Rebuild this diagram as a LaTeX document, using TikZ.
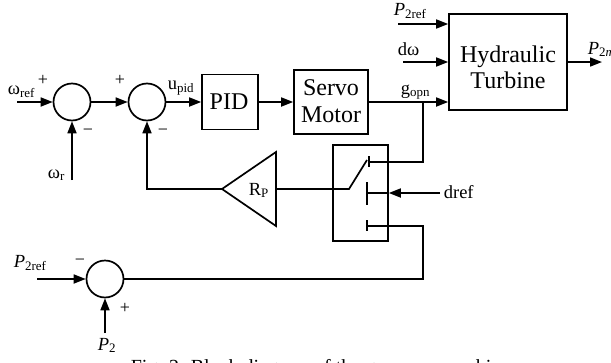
\documentclass[tikz,border=0pt]{standalone}
\usepackage{fontspec}
\setmainfont{Liberation Serif}
\usetikzlibrary{arrows.meta,calc}
\begin{document}
\begin{tikzpicture}[x=1pt,y=-1pt, line width=1.7pt,
  >={Triangle[length=12pt,width=9pt]},
  sumc/.style={circle,draw,minimum size=37pt,inner sep=0pt},
  blk/.style={draw,inner sep=0pt},
  btxt/.style={font=\fontsize{24}{27}\selectfont,inner sep=0pt,anchor=base},
  lbl/.style={font=\fontsize{18.5}{20}\selectfont,inner sep=0pt,anchor=base west},
  sgn/.style={font=\fontsize{18}{20}\selectfont,inner sep=0pt}]
\clip (0,0) rectangle (611,362);
% summing junctions
\node[sumc] (s1) at (72,102) {};
\node[sumc] (s2) at (147,102) {};
\node[sumc] (s3) at (105,279) {};
% blocks
\node[blk,minimum width=56pt,minimum height=55pt] (pid) at (230,102) {};
\node[btxt] (pidt) at (229,109) {PID};
\node[blk,minimum width=74pt,minimum height=64pt] (servo) at (331,102) {};
\node[btxt] (servot1) at (331,95) {Servo};
\node[btxt] (servot2) at (331,122) {Motor};
\node[blk,minimum width=118pt,minimum height=96pt] (turb) at (508,62) {};
\node[btxt] (turbt1) at (508,62) {Hydraulic};
\node[btxt] (turbt2) at (508,88) {Turbine};
\node[blk,minimum width=55pt,minimum height=96pt] (sw) at (360.5,193) {};
% gain triangle
\coordinate (tript) at (222,189);
\coordinate (trir) at (276,189);
\draw[line join=miter] (276,152) -- (tript) -- (276,226) -- cycle;
\node[lbl] (rp) at (248,195) {R\textsubscript{P}};
% main path
\coordinate (wref) at (17,102);
\draw[->] (wref) -- (s1);
\draw[->] (s1) -- (s2);
\draw[->] (s2) -- (pid);
\draw[->] (pid) -- (servo);
\draw[->] (servo.east) -- (servo.east -| turb.west);
\coordinate (wr) at (72,180);
\draw[->] (wr) -- (s1);
% turbine inputs / output
\coordinate (pin) at (398,24);
\draw[->] (pin) -- (pin -| turb.west);
\coordinate (dw) at (403,62);
\draw[->] (dw) -- (turb);
\coordinate (pout) at (602,62);
\draw[->] (turb) -- (pout);
% switch
\coordinate (br) at (423,102);
\coordinate (ct) at (369,162);
\draw (br) |- (ct);
\draw (369,156) -- (369,167);
\coordinate (piv) at (349,189);
\draw (trir) -- (piv) -- (367,160);
\draw (367,182) -- (367,205);
\coordinate (cm) at (367,193);
\draw (cm) -- (cm -| sw.east);
\coordinate (dref) at (440,193);
\draw[->] (dref) -- (dref -| sw.east);
\draw (367,220) -- (367,231);
\coordinate (cb) at (367,226);
\coordinate (cr) at (423,226);
\draw (cb) -- (cr) |- (s3.east);
% feedback
\draw[->] (tript) -| (s2.south);
% bottom junction inputs
\coordinate (p2r) at (37,279);
\draw[->] (p2r) -- (s3);
\coordinate (p2) at (105,333);
\draw[->] (p2) -- (s3);
% labels
\node[lbl] (lwref) at (7,94) {ω\textsubscript{ref}};
\node[sgn] (pl1) at (43,80) {+};
\node[lbl] (lwr) at (47,178) {ω\textsubscript{r}};
\node[sgn] (mi1) at (88,132) {−};
\node[sgn] (pl2) at (120,80) {+};
\node[sgn] (mi2) at (163,132) {−};
\node[lbl] (lupid) at (167,89) {u\textsubscript{pid}};
\node[lbl] (lgopn) at (400,94) {g\textsubscript{opn}};
\node[lbl] (lp2ref) at (393,15) {\textit{P}\textsubscript{2ref}};
\node[lbl] (ldw) at (397,55) {dω};
\node[lbl] (lp2m) at (587,54) {\textit{P}\textsubscript{2\textit{m}}};
\node[lbl] (ldref) at (443,198) {dref};
\node[lbl] (lp2refb) at (13,267) {\textit{P}\textsubscript{2ref}};
\node[sgn] (mi3) at (80,262) {−};
\node[sgn] (pl3) at (125,308) {+};
\node[lbl] (lp2) at (97,350) {\textit{P}\textsubscript{2}};
\node[font=\fontsize{20}{22}\selectfont,anchor=base west,inner sep=0pt] (cap) at (130,373) {Fig. 2. Block diagram of the governor machine};
\end{tikzpicture}
\end{document}
